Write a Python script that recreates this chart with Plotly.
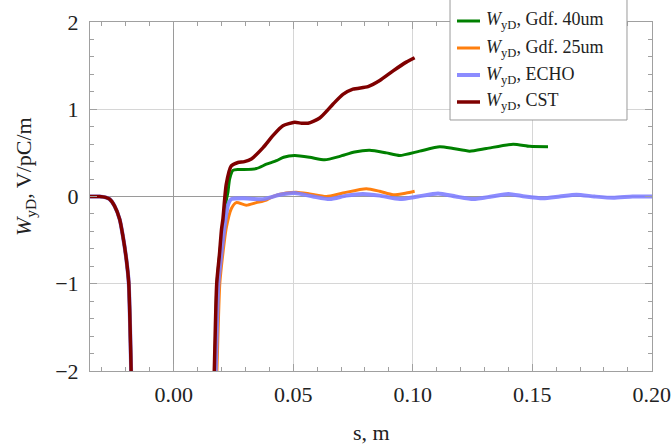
import plotly.graph_objects as go

# Shared pre-dip part of the wake (all solvers agree here), s in m, W in V/pC/m
s_head = [-0.035, -0.031, -0.0285, -0.0268, -0.0247, -0.0226, -0.0212, -0.0198, -0.0188, -0.0178, -0.0171]
w_head = [0.0, 0.0, -0.01, -0.03, -0.11, -0.26, -0.46, -0.72, -0.99, -2.0, -3.0]

# Gdf. 40um
s_gdf40 = [0.0162, 0.0172, 0.0181, 0.0194, 0.0208, 0.0219, 0.0227, 0.0234, 0.0248, 0.0270, 0.0290,
           0.0346, 0.0388, 0.0430, 0.0460, 0.0506, 0.0569, 0.0632, 0.0695, 0.0757, 0.0820,
           0.0890, 0.0946, 0.1029, 0.1113, 0.1169, 0.1238, 0.1308, 0.1420, 0.1490, 0.1566]
w_gdf40 = [-3.0, -2.0, -1.0, -0.62, -0.26, -0.06, 0.05, 0.20, 0.30, 0.31, 0.31,
           0.32, 0.37, 0.41, 0.45, 0.47, 0.45, 0.42, 0.46, 0.51, 0.53,
           0.50, 0.47, 0.52, 0.57, 0.55, 0.52, 0.55, 0.60, 0.575, 0.57]

# Gdf. 25um
s_gdf25 = [0.0170, 0.0181, 0.0193, 0.0206, 0.0220, 0.0241, 0.0262, 0.0304, 0.0346, 0.0388,
           0.0416, 0.0471, 0.0513, 0.0569, 0.0639, 0.0708, 0.0806, 0.0862, 0.0918, 0.0973, 0.1008]
w_gdf25 = [-3.0, -2.0, -1.0, -0.65, -0.36, -0.14, -0.07, -0.10, -0.07, -0.04,
           0.0, 0.04, 0.05, 0.03, 0.0, 0.04, 0.09, 0.06, 0.02, 0.04, 0.06]

# ECHO
s_echo = [0.0165, 0.0176, 0.0187, 0.0202, 0.0215, 0.0227, 0.0241, 0.0290, 0.0374, 0.0444,
          0.0506, 0.0583, 0.0653, 0.0722, 0.0792, 0.0862, 0.0946, 0.1022, 0.1106, 0.1180,
          0.1253, 0.1330, 0.1400, 0.1470, 0.1545, 0.1615, 0.1685, 0.1760, 0.1838, 0.1920, 0.2013]
w_echo = [-3.0, -2.0, -1.0, -0.60, -0.30, -0.10, -0.03, -0.02, -0.03, 0.02,
          0.04, 0.0, -0.03, 0.01, 0.03, 0.01, -0.03, 0.0, 0.035, 0.0,
          -0.03, 0.0, 0.03, 0.0, -0.02, 0.0, 0.02, 0.0, -0.015, 0.0, 0.0]

# CST
s_cst = [0.0160, 0.0170, 0.0180, 0.0192, 0.0200, 0.0206, 0.0220, 0.0241, 0.0269, 0.0296,
         0.0325, 0.0374, 0.0416, 0.0457, 0.0506, 0.0535, 0.0562, 0.0611, 0.0667, 0.0708,
         0.0750, 0.0813, 0.0862, 0.0918, 0.0973, 0.1008]
w_cst = [-3.0, -2.0, -1.0, -0.65, -0.38, -0.26, 0.14, 0.35, 0.39, 0.40,
         0.43, 0.56, 0.70, 0.81, 0.85, 0.84, 0.84, 0.90, 1.06, 1.17,
         1.23, 1.26, 1.33, 1.44, 1.54, 1.59]

names = ["<i>W</i><sub>yD</sub>, Gdf. 40um",
         "<i>W</i><sub>yD</sub>, Gdf. 25um",
         "<i>W</i><sub>yD</sub>, ECHO",
         "<i>W</i><sub>yD</sub>, CST"]
colors = ["#008000", "#ff7f0e", "rgba(128,128,255,0.9)", "#7f0000"]
widths = [3, 3, 4, 3.5]
series = [(s_gdf40, w_gdf40), (s_gdf25, w_gdf25), (s_echo, w_echo), (s_cst, w_cst)]

fig = go.Figure()
for i, (sx, wy) in enumerate(series):
    fig.add_trace(go.Scatter(
        x=s_head + sx, y=w_head + wy, mode="lines", name=names[i],
        line=dict(color=colors[i], width=widths[i], shape="spline", smoothing=0.6),
        showlegend=False,
    ))

serif = "Liberation Serif, Times New Roman, serif"
frame = "#a0a0a0"
ink = "#222"

fig.update_xaxes(
    range=[-0.035, 0.2001], tick0=0, dtick=0.05, tickformat=".2f",
    showline=True, linecolor=frame, linewidth=1, mirror="allticks",
    ticks="inside", ticklen=7, tickcolor=frame, tickwidth=1,
    minor=dict(dtick=0.01, ticks="inside", ticklen=4, tickcolor=frame, showgrid=False),
    showgrid=True, gridcolor="#d6d6d6", gridwidth=1.3,
    zeroline=True, zerolinecolor="#9a9a9a", zerolinewidth=1,
    tickfont=dict(family=serif, size=22, color=ink), ticklabelstandoff=4,
    ticklabeloverflow="allow", automargin=False,
)
fig.update_yaxes(
    range=[-2, 2], tick0=0, dtick=1,
    showline=True, linecolor=frame, linewidth=1, mirror="allticks",
    ticks="inside", ticklen=7, tickcolor=frame, tickwidth=1,
    minor=dict(dtick=0.2, ticks="inside", ticklen=4, tickcolor=frame, showgrid=False),
    showgrid=True, gridcolor="#d6d6d6", gridwidth=1.3,
    zeroline=True, zerolinecolor="#9a9a9a", zerolinewidth=1,
    tickfont=dict(family=serif, size=22, color=ink), ticklabelstandoff=6,
    tickvals=[-2, -1, 0, 1, 2], ticktext=["\u22122", "\u22121", "0", "1", "2"],
    automargin=False,
)

# Legend: framed white box (running off the top of the page), key lines and labels
shapes = [dict(type="rect", xref="paper", yref="paper", layer="above",
               x0=0.6406, x1=0.9555, y0=0.7192, y1=1.10,
               fillcolor="white", line=dict(color="#9a9a9a", width=1))]
annotations = []
row_y = [1.0029, 0.9255, 0.8481, 0.7708]
for i in range(len(names)):
    shapes.append(dict(type="line", xref="paper", yref="paper", layer="above",
                       x0=0.6530, x1=0.6940, y0=row_y[i], y1=row_y[i],
                       line=dict(color=colors[i], width=widths[i])))
    annotations.append(dict(text=names[i], xref="paper", yref="paper",
                            x=0.7011, y=row_y[i], xanchor="left", yanchor="middle",
                            showarrow=False, font=dict(family=serif, size=18, color=ink)))

annotations += [
    dict(text="s, m", xref="paper", yref="paper", x=0.5, y=-0.175,
         xanchor="center", yanchor="middle", showarrow=False,
         font=dict(family=serif, size=22, color=ink)),
    dict(text="<i>W</i><sub>yD</sub>, V/pC/m", xref="paper", yref="paper",
         x=-0.1157, y=0.5587, xanchor="center", yanchor="middle", textangle=-90,
         showarrow=False, font=dict(family=serif, size=22, color=ink)),
]

fig.update_layout(
    width=671, height=444,
    margin=dict(l=90, r=19, t=22, b=73),
    paper_bgcolor="white", plot_bgcolor="white",
    showlegend=False,
    shapes=shapes,
    annotations=annotations,
)

fig.write_html("out.html")
